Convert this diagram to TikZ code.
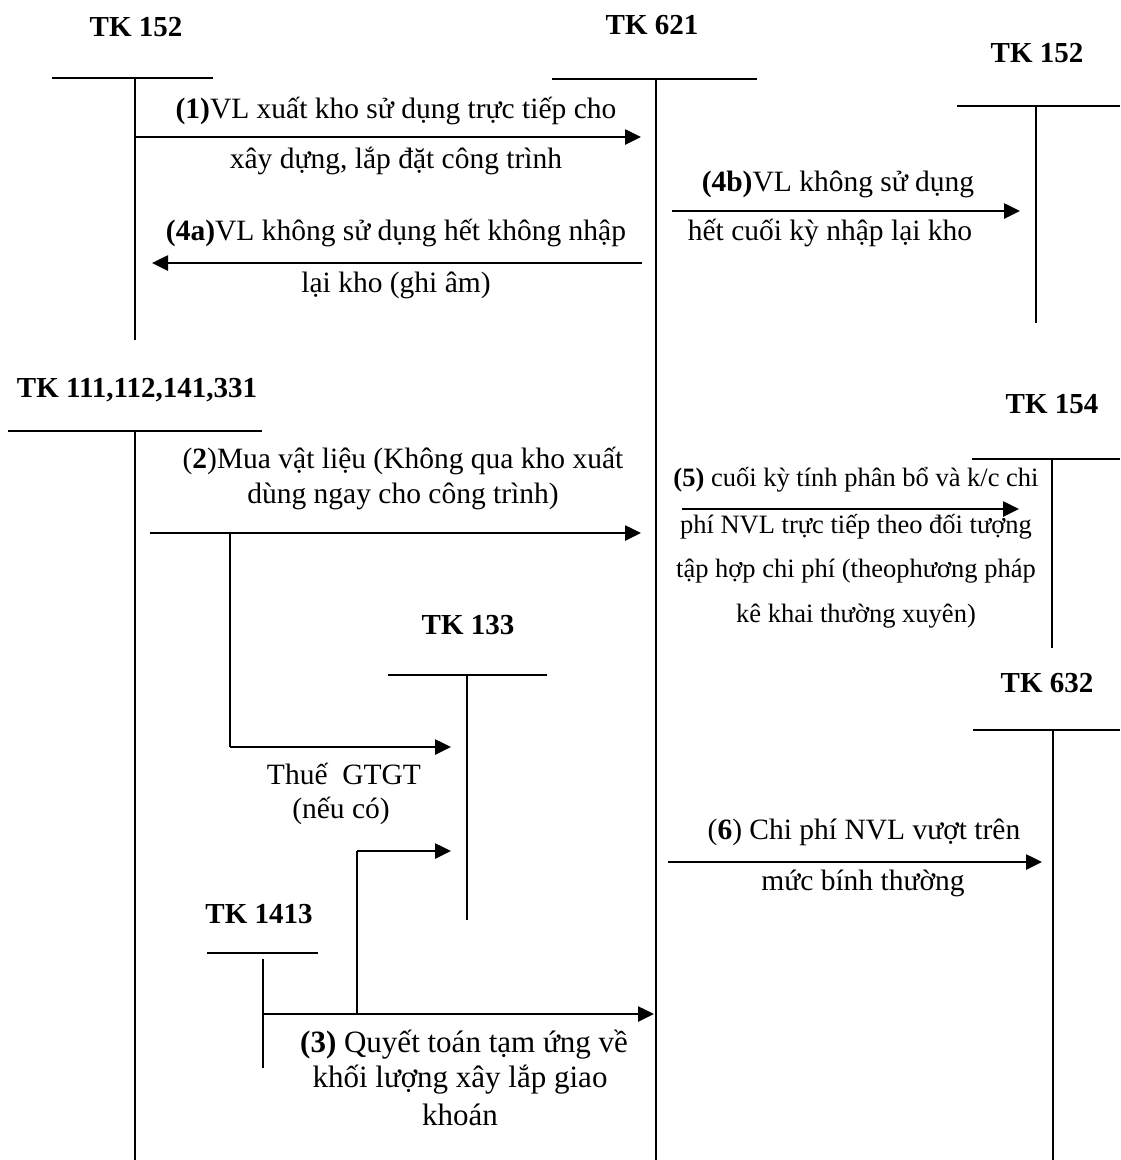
\documentclass[tikz,border=0pt]{standalone}
\usepackage{fontspec}
\setmainfont{Liberation Serif}
\usetikzlibrary{arrows.meta}
\begin{document}
\begin{tikzpicture}[x=1pt,y=-1pt,
  acct/.style={line width=2pt},
  flow/.style={line width=2.6pt,-{Triangle[length=16pt,width=15pt]}},
  link/.style={line width=2.3pt},
  title/.style={anchor=base,inner sep=0pt,font=\fontsize{29}{34}\selectfont\bfseries},
  txt/.style={anchor=base,inner sep=0pt,font=\fontsize{29.5}{35}\selectfont},
  smalltxt/.style={anchor=base,inner sep=0pt,font=\fontsize{26.5}{32}\selectfont},
  bigtxt/.style={anchor=base,inner sep=0pt,font=\fontsize{31}{37}\selectfont}]
\useasboundingbox (0,0) rectangle (1120,1160);

% ---- T accounts: title, top bar, stem ----
\node[title] (t152a) at (136,36) {TK 152};
\coordinate (a152L) at (52,78);   \coordinate (a152R) at (213,78);
\coordinate (a152T) at (135,78);  \coordinate (a152B) at (135,340);
\draw[acct] (a152L) -- (a152R) (a152T) -- (a152B);

\node[title] (t621) at (652,34) {TK 621};
\coordinate (a621L) at (552,79);  \coordinate (a621R) at (757,79);
\coordinate (a621T) at (656,79);  \coordinate (a621B) at (656,1160);
\draw[acct] (a621L) -- (a621R) (a621T) -- (a621B);

\node[title] (t152b) at (1037,62) {TK 152};
\coordinate (b152L) at (957,106); \coordinate (b152R) at (1120,106);
\coordinate (b152T) at (1036,106);\coordinate (b152B) at (1036,323);
\draw[acct] (b152L) -- (b152R) (b152T) -- (b152B);

\node[title] (t111) at (137,397) {TK 111,112,141,331};
\coordinate (a111L) at (8,431);   \coordinate (a111R) at (262,431);
\coordinate (a111T) at (135,431); \coordinate (a111B) at (135,1160);
\draw[acct] (a111L) -- (a111R) (a111T) -- (a111B);

\node[title] (t154) at (1052,413) {TK 154};
\coordinate (a154L) at (972,459); \coordinate (a154R) at (1120,459);
\coordinate (a154T) at (1052,459);\coordinate (a154B) at (1052,648);
\draw[acct] (a154L) -- (a154R) (a154T) -- (a154B);

\node[title] (t632) at (1047,692) {TK 632};
\coordinate (a632L) at (973,730); \coordinate (a632R) at (1120,730);
\coordinate (a632T) at (1053,730);\coordinate (a632B) at (1053,1160);
\draw[acct] (a632L) -- (a632R) (a632T) -- (a632B);

\node[title] (t133) at (468,634) {TK 133};
\coordinate (a133L) at (388,675); \coordinate (a133R) at (547,675);
\coordinate (a133T) at (467,675); \coordinate (a133B) at (467,920);
\draw[acct] (a133L) -- (a133R) (a133T) -- (a133B);

\node[title] (t1413) at (259,923) {TK 1413};
\coordinate (a1413L) at (207,953);\coordinate (a1413R) at (318,953);
\coordinate (a1413T) at (263,959);\coordinate (a1413B) at (263,1068);
\draw[acct] (a1413L) -- (a1413R) (a1413T) -- (a1413B);

% ---- (1) issue from store ----
\coordinate (f1s) at (135,137); \coordinate (f1e) at (641,137);
\draw[flow] (f1s) -- (f1e);
\node[txt] (l1a) at (396,118) {\textbf{(1)}VL xuất kho sử dụng trực tiếp cho};
\node[txt] (l1b) at (396,168) {xây dựng, lắp đặt công trình};

% ---- (4a) unused, not returned ----
\coordinate (f4as) at (642,263); \coordinate (f4ae) at (152,263);
\draw[flow] (f4as) -- (f4ae);
\node[txt] (l4a1) at (396,240) {\textbf{(4a)}VL không sử dụng hết không nhập};
\node[txt] (l4a2) at (396,292) {lại kho (ghi âm)};

% ---- (4b) unused, returned to store ----
\coordinate (f4bs) at (672,211); \coordinate (f4be) at (1020,211);
\draw[flow] (f4bs) -- (f4be);
\node[txt] (l4b1) at (838,191) {\textbf{(4b)}VL không sử dụng};
\node[txt] (l4b2) at (830,240) {hết cuối kỳ nhập lại kho};

% ---- (2) direct purchase ----
\coordinate (f2s) at (150,533); \coordinate (f2e) at (641,533);
\draw[flow] (f2s) -- (f2e);
\node[txt] (l2a) at (403,468) {(\textbf{2})Mua vật liệu (Không qua kho xuất};
\node[txt] (l2b) at (403,503) {dùng ngay cho công trình)};

% VAT branch to TK 133
\coordinate (v1) at (230,533); \coordinate (v2) at (230,747); \coordinate (v3) at (451,747);
\draw[link] (v1) -- (v2);
\draw[flow] (v2) -- (v3);
\node[txt] (lv1) at (344,784) {Thuế~ GTGT};
\node[txt] (lv2) at (341,818) {(nếu có)};

% ---- (5) transfer to TK 154 ----
\coordinate (f5s) at (682,509); \coordinate (f5e) at (1019,509);
\node[smalltxt] (l5a) at (856,486) {\textbf{(5)} cuối kỳ tính phân bổ và k/c chi};
\node[smalltxt] (l5b) at (856,533) {phí NVL trực tiếp theo đối tượng};
\node[smalltxt] (l5c) at (856,577) {tập hợp chi phí (theophương pháp};
\node[smalltxt] (l5d) at (856,622) {kê khai thường xuyên)};
\draw[flow] (f5s) -- (f5e);

% ---- (6) excess cost to TK 632 ----
\coordinate (f6s) at (668,862); \coordinate (f6e) at (1042,862);
\draw[flow] (f6s) -- (f6e);
\node[txt] (l6a) at (864,839) {(\textbf{6}) Chi phí NVL vượt trên};
\node[txt] (l6b) at (863,890) {mức bính thường};

% ---- (3) settlement of advances ----
\coordinate (f3s) at (263,1014); \coordinate (f3e) at (654,1014);
\draw[flow] (f3s) -- (f3e);
\coordinate (w1) at (357,1014); \coordinate (w2) at (357,851); \coordinate (w3) at (451,851);
\draw[link] (w1) -- (w2);
\draw[flow] (w2) -- (w3);
\node[bigtxt] (l3a) at (464,1052) {\textbf{(3)} Quyết toán tạm ứng về};
\node[bigtxt] (l3b) at (460,1087) {khối lượng xây lắp giao};
\node[bigtxt] (l3c) at (460,1125) {khoán};
\end{tikzpicture}
\end{document}
